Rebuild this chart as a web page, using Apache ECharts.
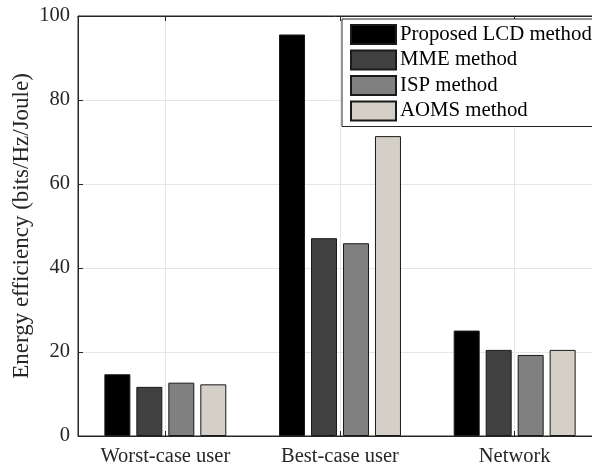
<!DOCTYPE html>
<html><head><meta charset="utf-8">
<script src="https://cdn.jsdelivr.net/npm/echarts@6/dist/echarts.min.js"></script>
<style>html,body{margin:0;padding:0;background:#fff}#c{width:592px;height:468px}</style>
</head><body><div id="c"></div>
<script>
const categories = ['Worst-case user', 'Best-case user', 'Network'];
const seriesNames = ['Proposed LCD method', 'MME method', 'ISP method', 'AOMS method'];
const lcd  = [14.7, 95.6, 25.1];
const mme  = [11.7, 47.1, 20.5];
const isp  = [12.7, 45.9, 19.3];
const aoms = [12.3, 71.4, 20.5];
const yTicks = [0, 20, 40, 60, 80, 100];

const colors = ['#000000', '#404040', '#808080', '#d4d0c8'];
const values = [lcd, mme, isp, aoms];
const font = 'Liberation Serif';
const txt = '#262626';

const chart = echarts.init(document.getElementById('c'), null, {renderer: 'canvas'});
chart.setOption({
  animation: false,
  backgroundColor: '#fff',
  grid: {left: 78, top: 16, bottom: 32, right: -10, show: true, borderColor: txt, borderWidth: 1, outerBoundsMode: 'none', containLabel: false},
  legend: {
    orient: 'vertical', left: 342, top: 19, itemWidth: 45, itemHeight: 19, itemGap: 4.5,
    padding: [5, 12, 5, 8], backgroundColor: '#fff', borderColor: txt, borderWidth: 1, borderRadius: 0,
    icon: 'rect', selectedMode: false,
    textStyle: {fontFamily: font, fontSize: 20.8, color: '#000', padding: [0, 0, 0, -1]},
    data: seriesNames
  },
  xAxis: [{
    type: 'category', data: categories, position: 'bottom',
    axisLine: {show: true, lineStyle: {color: txt, width: 1}},
    axisTick: {show: true, inside: true, alignWithLabel: true, length: 5, lineStyle: {color: txt}},
    axisLabel: {fontFamily: font, fontSize: 20.5, color: txt, margin: 10},
    splitLine: {show: true, alignWithLabel: true, lineStyle: {color: '#e6e6e6', width: 1}}
  }, {
    type: 'category', data: categories, position: 'top',
    axisLine: {show: true, lineStyle: {color: txt, width: 1}},
    axisTick: {show: true, inside: true, alignWithLabel: true, length: 5, lineStyle: {color: txt}},
    axisLabel: {show: false}, splitLine: {show: false}
  }],
  yAxis: {
    type: 'value', min: yTicks[0], max: yTicks[yTicks.length - 1], interval: 20,
    name: 'Energy efficiency (bits/Hz/Joule)', nameLocation: 'middle', nameGap: 45, nameMoveOverlap: false,
    nameTextStyle: {fontFamily: font, fontSize: 23, color: txt},
    axisLine: {show: true, lineStyle: {color: txt, width: 1}},
    axisTick: {show: true, inside: true, length: 5, lineStyle: {color: txt}},
    axisLabel: {fontFamily: font, fontSize: 20.5, color: txt, margin: 8},
    splitLine: {show: true, lineStyle: {color: '#e6e6e6', width: 1}}
  },
  series: seriesNames.map((n, i) => ({
    name: n, type: 'bar', data: values[i], barWidth: 26, barGap: '23%',
    itemStyle: {color: colors[i], borderColor: '#1a1a1a', borderWidth: 1},
    z: 3
  }))
});
</script></body></html>
